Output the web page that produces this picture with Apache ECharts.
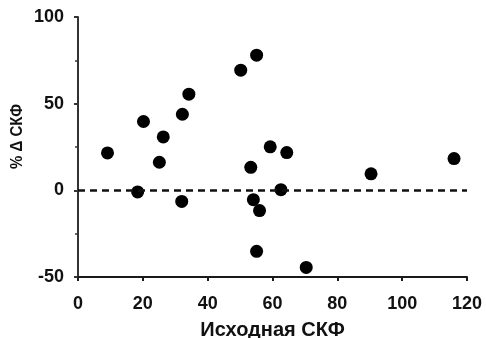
<!DOCTYPE html>
<html>
<head>
<meta charset="utf-8">
<script src="https://cdn.jsdelivr.net/npm/echarts@6/dist/echarts.min.js"></script>
<style>
  html, body { margin: 0; padding: 0; background: #fff; }
  #chart { width: 486px; height: 338px; }
</style>
</head>
<body>
<div id="chart"></div>
<script>
// Baseline GFR (x) vs percent change in GFR (y), one dot per patient
const baselineGfr = [9.1, 18.4, 20.2, 26.3, 25.1, 32.2, 34.2, 32.0, 50.2, 55.1,
                     53.3, 59.3, 64.4, 62.6, 54.1, 56.0, 55.1, 70.4, 90.4, 116.0];
const deltaGfrPct = [21.6, -0.9, 39.7, 30.8, 16.2, 43.9, 55.5, -6.4, 69.3, 78.0,
                     13.3, 25.1, 21.8, 0.4, -5.4, -11.7, -35.2, -44.5, 9.5, 18.3];
const xTicks = [0, 20, 40, 60, 80, 100, 120];
const yTicks = [-50, 0, 50, 100];

const xTitle = 'Исходная СКФ';
const yTitle = '% Δ СКФ';

const points = baselineGfr.map((x, i) => [x, deltaGfrPct[i]]);

const fontFamily = '"Liberation Sans", Arial, sans-serif';
const chart = echarts.init(document.getElementById('chart'), null, { renderer: 'canvas' });

chart.setOption({
  backgroundColor: '#ffffff',
  animation: false,
  grid: { left: 78, right: 19, top: 17, bottom: 61, containLabel: false, outerBoundsMode: 'none' },
  xAxis: {
    type: 'value',
    min: xTicks[0],
    max: xTicks[xTicks.length - 1],
    interval: xTicks[1] - xTicks[0],
    name: xTitle,
    nameLocation: 'middle',
    nameGap: 43,
    nameTextStyle: { fontFamily, fontWeight: 'bold', fontSize: 20, color: '#111' },
    axisLine: { show: true, onZero: false, lineStyle: { color: '#1a1a1a', width: 2 } },
    axisTick: { show: true, length: 4, lineStyle: { color: '#1a1a1a', width: 2 } },
    axisLabel: { margin: 18, fontFamily, fontWeight: 'bold', fontSize: 18, color: '#111' },
    splitLine: { show: false }
  },
  yAxis: {
    type: 'value',
    min: yTicks[0],
    max: yTicks[yTicks.length - 1],
    interval: yTicks[1] - yTicks[0],
    axisLine: { show: true, onZero: false, lineStyle: { color: '#333', width: 2 } },
    axisTick: { show: true, length: 4, lineStyle: { color: '#333', width: 2 } },
    minorTick: { show: true, splitNumber: 2, length: 3, lineStyle: { color: '#333', width: 1.5 } },
    axisLabel: { margin: 14, fontFamily, fontWeight: 'bold', fontSize: 18, color: '#111' },
    splitLine: { show: false }
  },
  graphic: [{
    type: 'text',
    left: 9,
    top: 104,
    rotation: Math.PI / 2,
    scaleY: 1.15,
    style: {
      text: yTitle,
      font: 'bold 15px ' + fontFamily,
      fill: '#111'
    }
  }],
  series: [{
    type: 'scatter',
    data: points,
    symbol: 'circle',
    symbolSize: 13,
    itemStyle: { color: '#000', opacity: 1 },
    z: 3,
    markLine: {
      silent: true,
      symbol: 'none',
      label: { show: false },
      lineStyle: { color: '#111', type: [7, 5], width: 2.5, opacity: 1 },
      data: [{ yAxis: 0 }]
    }
  }]
});
</script>
</body>
</html>
